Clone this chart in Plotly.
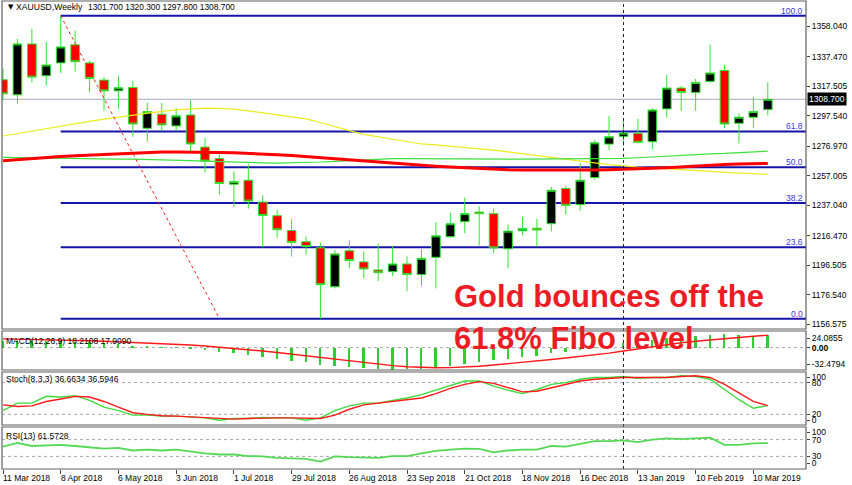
import plotly.graph_objects as go

W, H = 852, 485

# ---------------- data ----------------
date_labels = ["11 Mar 2018", "8 Apr 2018", "6 May 2018", "3 Jun 2018", "1 Jul 2018",
               "29 Jul 2018", "26 Aug 2018", "23 Sep 2018", "21 Oct 2018", "18 Nov 2018",
               "16 Dec 2018", "13 Jan 2019", "10 Feb 2019", "10 Mar 2019"]
date_idx = [0, 4, 8, 12, 16, 20, 24, 28, 32, 36, 40, 44, 48, 52]

opens = [1321.9, 1311.7, 1346.1, 1324.6, 1333.3, 1345.5, 1333.3, 1321.7, 1314.4, 1316.7,
         1289.1, 1298.6, 1290.7, 1298.1, 1276.4, 1268.7, 1251.3, 1254.0, 1239.3, 1230.0,
         1220.0, 1212.4, 1208.3, 1182.0, 1206.3, 1198.8, 1193.4, 1192.2, 1197.4, 1190.2,
         1201.9, 1215.8, 1226.0, 1232.5, 1231.4, 1207.6, 1219.8, 1221.6, 1224.6, 1248.4,
         1237.5, 1255.8, 1278.4, 1283.6, 1285.7, 1280.0, 1302.2, 1316.3, 1313.3, 1320.8,
         1328.2, 1292.5, 1296.6, 1301.7]
highs = [1329.4, 1349.5, 1356.3, 1347.5, 1365.2, 1355.2, 1334.8, 1323.7, 1324.6, 1321.2,
         1306.5, 1306.1, 1302.7, 1308.3, 1282.7, 1271.4, 1260.1, 1264.7, 1243.8, 1234.1,
         1227.7, 1216.0, 1211.7, 1206.9, 1213.3, 1205.8, 1211.2, 1209.4, 1202.6, 1207.6,
         1225.7, 1232.1, 1242.2, 1236.4, 1234.8, 1224.1, 1229.1, 1228.0, 1249.5, 1250.1,
         1265.6, 1281.1, 1297.4, 1295.9, 1295.4, 1302.7, 1325.3, 1317.8, 1322.4, 1345.7,
         1332.1, 1299.3, 1310.5, 1320.3]
lows = [1308.3, 1305.4, 1320.1, 1318.0, 1326.5, 1327.5, 1313.5, 1300.9, 1302.2, 1283.4,
        1280.0, 1287.5, 1287.3, 1273.7, 1259.0, 1244.3, 1235.9, 1234.8, 1208.7, 1215.1,
        1202.4, 1203.6, 1160.4, 1180.9, 1194.4, 1187.7, 1185.9, 1189.3, 1178.8, 1182.7,
        1180.9, 1215.1, 1218.2, 1209.9, 1204.6, 1194.5, 1216.7, 1209.2, 1219.4, 1230.9,
        1233.2, 1254.5, 1274.4, 1277.3, 1278.9, 1274.8, 1296.3, 1300.9, 1300.9, 1319.7,
        1289.1, 1278.9, 1289.1, 1297.8]
closes = [1312.4, 1346.1, 1323.7, 1331.9, 1344.1, 1334.1, 1322.8, 1314.4, 1316.5, 1292.0,
          1300.4, 1291.4, 1297.5, 1278.5, 1266.9, 1251.8, 1253.1, 1239.9, 1230.2, 1220.5,
          1211.9, 1209.2, 1183.4, 1204.2, 1199.7, 1194.0, 1191.5, 1197.4, 1190.2, 1201.2,
          1216.4, 1224.6, 1231.4, 1231.4, 1208.3, 1219.6, 1221.4, 1220.3, 1247.2, 1237.0,
          1254.0, 1279.3, 1283.4, 1285.9, 1279.6, 1301.5, 1316.3, 1313.3, 1320.1, 1326.5,
          1292.0, 1296.6, 1300.4, 1308.7]

ma_red = [1267.1, 1267.9, 1268.6, 1269.3, 1270.0, 1270.5, 1271.0, 1271.5, 1271.9, 1272.3,
          1272.7, 1273.0, 1273.1, 1273.1, 1272.9, 1272.7, 1272.5, 1272.2, 1271.8, 1271.3,
          1270.7, 1270.0, 1269.2, 1268.3, 1267.5, 1266.8, 1266.0, 1265.3, 1264.7, 1264.1,
          1263.5, 1263.0, 1262.5, 1261.9, 1261.3, 1261.1, 1260.9, 1260.8, 1260.7, 1260.7,
          1260.8, 1260.9, 1261.1, 1261.3, 1261.7, 1262.1, 1262.5, 1263.1, 1263.6, 1264.2,
          1264.7, 1264.9, 1265.1, 1265.3]
ma_green = [1269.4, 1269.2, 1269.0, 1268.8, 1268.7, 1268.6, 1268.5, 1268.4, 1268.3, 1268.2,
            1268.1, 1267.9, 1267.6, 1267.3, 1266.9, 1266.5, 1266.2, 1265.9, 1265.7, 1265.6,
            1265.7, 1265.9, 1266.3, 1266.8, 1267.3, 1267.9, 1268.5, 1268.6, 1268.6, 1268.5,
            1268.5, 1268.4, 1268.4, 1268.3, 1268.3, 1268.3, 1268.3, 1268.3, 1268.3, 1268.3,
            1268.3, 1268.4, 1268.5, 1268.7, 1269.2, 1269.8, 1270.4, 1271.0, 1271.4, 1271.8,
            1272.1, 1272.6, 1273.1, 1273.7]
ma_yellow = [1283.9, 1285.6, 1287.3, 1289.1, 1290.8, 1292.3, 1293.8, 1295.3, 1296.7, 1298.1,
             1299.3, 1300.5, 1301.5, 1302.2, 1302.7, 1302.5, 1302.0, 1300.9, 1299.5, 1298.3,
             1297.0, 1295.5, 1293.0, 1290.0, 1287.5, 1285.0, 1283.3, 1281.7, 1280.1, 1278.5,
             1277.9, 1277.1, 1276.2, 1275.3, 1274.4, 1273.1, 1271.8, 1270.5, 1269.3, 1268.1,
             1266.9, 1265.7, 1264.6, 1263.5, 1262.9, 1262.3, 1261.7, 1261.1, 1260.5, 1259.6,
             1259.2, 1258.8, 1258.4, 1257.9]

macd_main = [9.5, 9.8, 9.5, 9.0, 9.2, 8.5, 7.5, 6.0, 4.8, 3.0,
             2.0, 0.8, 0.2, -1.5, -3.5, -6.0, -8.5, -11.0, -14.0, -16.5,
             -19.0, -21.5, -25.5, -27.0, -28.5, -30.0, -31.5, -32.0, -31.5, -30.5,
             -28.5, -26.0, -23.5, -21.0, -18.5, -16.0, -13.5, -11.5, -8.5, -6.0,
             -3.5, -0.5, 3.0, 6.0, 8.5, 11.0, 14.0, 15.5, 17.0, 19.0,
             20.0, 18.5, 17.5, 18.2]
macd_signal = [12.7, 12.4, 12.0, 11.5, 11.0, 10.5, 10.0, 9.3, 8.5, 7.7,
               7.0, 6.4, 5.2, 3.8, 2.3, 0.7, -1.0, -3.0, -5.0, -7.2,
               -9.5, -12.0, -14.5, -17.0, -19.5, -22.0, -24.3, -26.2, -27.8, -28.8,
               -29.2, -29.0, -28.3, -27.0, -25.3, -23.5, -21.5, -19.3, -17.2, -15.0,
               -12.8, -10.5, -8.0, -5.0, -2.0, 1.5, 4.5, 7.0, 9.3, 11.3,
               13.0, 14.8, 16.5, 17.9]
stoch_k = [27, 41.3, 41.3, 54.1, 52.9, 55.4, 46.3, 33.6, 27, 18.7,
           18.7, 16.7, 16.7, 15.4, 13.5, 9, 12.3, 12.3, 14.2, 13.5,
           13.5, 9, 13.5, 27, 36.1, 41.3, 41.3, 46.3, 51, 57.4,
           65.7, 74.8, 83.1, 83.1, 73.4, 65.7, 59.3, 67, 76.7, 80,
           86.4, 89.7, 89.7, 91.6, 88.3, 89.7, 89.7, 92.8, 91.6, 86.4,
           67, 47.7, 31.6, 36.66]
stoch_d = [38, 34.8, 36.1, 44.4, 49, 54.1, 52.9, 44.4, 33.6, 23.2,
           20, 17.5, 16.7, 15.4, 13.5, 12.3, 11, 12.3, 13.5, 13.5,
           13.5, 12.3, 12.3, 18.7, 29.7, 38, 41.3, 44.4, 47.7, 51,
           59.3, 69, 76.7, 81.8, 78.6, 70.2, 62.5, 63.8, 70.2, 76.7,
           83.1, 86.4, 88.3, 89.7, 89.7, 89.7, 89.7, 91.6, 92.8, 89.7,
           76.7, 60.6, 44.4, 36.59]
rsi = [53.1, 62, 54.8, 56.7, 57.5, 54.8, 52.1, 48.7, 50.5, 44.1,
       46, 44.1, 46, 41.5, 37.2, 34.5, 34.5, 30.8, 30, 26.5,
       26, 23.9, 17.5, 30, 28.2, 28.2, 26.5, 30.8, 30.8, 37.2,
       43.3, 46, 48.7, 48, 39.8, 44.1, 46, 46, 54.8, 53.1,
       59.3, 66.4, 66.4, 68.2, 63.8, 70, 72.7, 71, 72.7, 74.4,
       57.5, 57.5, 61.1, 61.57]

fib_high, fib_low = 1365.2, 1160.4
fib_start, fib_end = 4, 15
fib_levels = [0.0, 23.6, 38.2, 50.0, 61.8, 100.0]
price_ticks = [1358.040, 1337.470, 1317.505, 1297.540, 1276.970, 1257.005,
               1237.040, 1216.470, 1196.505, 1176.540, 1156.575]
macd_max_lbl, macd_min_lbl = 24.0855, -32.4794
sep_bar = 43
symbol_text = "XAUUSD,Weekly"
ohlc_text = "1301.700 1320.300 1297.800 1308.700"
macd_text = "MACD(12,26,9) 18.2108 17.9090"
stoch_text = "Stoch(8,3,3) 36.6634 36.5946"
rsi_text = "RSI(13) 61.5728"

idx = list(range(len(closes)))
last_price = closes[-1]

# ---------------- geometry (px) ----------------
X0, X1 = 2, 806
BAR0, BARW = 3.0, 14.43
P_MAIN, P_MACD, P_STO, P_RSI = (1, 329), (331, 370), (372, 425), (427, 469)


def dom(p):
    return [1 - p[1] / H, 1 - p[0] / H]


def px2val(px, p, rng):
    return rng[1] - (px - p[0]) / (p[1] - p[0]) * (rng[1] - rng[0])


def py(px):
    return 1 - px / H


x_range = [(X0 - BAR0) / BARW, (X1 - BAR0) / BARW]
SCALE, REF_PX = 0.6759, 15.7
main_range = [fib_high - (P_MAIN[1] - REF_PX) * SCALE, fib_high + (REF_PX - P_MAIN[0]) * SCALE]
macd_range = [macd_min_lbl, macd_max_lbl]
sto_range = [0, 100]
rsi_range = [0, 100]

GREEN = "#2ee82e"
FONT = "Liberation Sans"
FS = 8.5

fig = go.Figure()
fig.add_trace(go.Scatter(x=idx, y=ma_yellow, mode="lines", line=dict(color="#ecec1c", width=1.2),
                         xaxis="x", yaxis="y", hoverinfo="skip"))
fig.add_trace(go.Scatter(x=idx, y=ma_green, mode="lines", line=dict(color="#3ee03e", width=1.2),
                         xaxis="x", yaxis="y", hoverinfo="skip"))
fig.add_trace(go.Scatter(x=idx, y=ma_red, mode="lines", line=dict(color="#ff0000", width=3),
                         xaxis="x", yaxis="y", hoverinfo="skip"))
fig.add_trace(go.Scatter(x=[fib_start, fib_end], y=[fib_high, fib_low], mode="lines",
                         line=dict(color="#ff2020", width=1, dash="dot"), xaxis="x", yaxis="y",
                         hoverinfo="skip"))
fig.add_trace(go.Candlestick(x=idx, open=opens, high=highs, low=lows, close=closes,
                             increasing=dict(line=dict(color=GREEN, width=1), fillcolor="#000000"),
                             decreasing=dict(line=dict(color=GREEN, width=1), fillcolor="#ff0000"),
                             whiskerwidth=0, xaxis="x", yaxis="y", hoverinfo="skip"))
fig.add_trace(go.Bar(x=idx, y=macd_main, width=0.13, marker=dict(color="#33cc33", line=dict(width=0)),
                     xaxis="x", yaxis="y2", hoverinfo="skip"))
fig.add_trace(go.Scatter(x=idx, y=macd_signal, mode="lines", line=dict(color="#ff1a1a", width=1.4),
                         xaxis="x", yaxis="y2", hoverinfo="skip"))
fig.add_trace(go.Scatter(x=idx, y=stoch_k, mode="lines", line=dict(color="#3ddc3d", width=1.4),
                         xaxis="x", yaxis="y3", hoverinfo="skip"))
fig.add_trace(go.Scatter(x=idx, y=stoch_d, mode="lines", line=dict(color="#ff1a1a", width=1.4),
                         xaxis="x", yaxis="y3", hoverinfo="skip"))
fig.add_trace(go.Scatter(x=idx, y=rsi, mode="lines", line=dict(color="#55d855", width=1.8),
                         xaxis="x", yaxis="y4", hoverinfo="skip"))

shapes = []
# bid line
shapes.append(dict(type="line", xref="paper", yref="y", x0=X0 / W, x1=X1 / W, y0=last_price, y1=last_price,
                   line=dict(color="#a4adbd", width=1), layer="below"))
# fibonacci rays
for lv in fib_levels:
    pr = fib_low + lv / 100 * (fib_high - fib_low)
    shapes.append(dict(type="line", xref="x", yref="y", x0=fib_start, x1=x_range[1], y0=pr, y1=pr,
                       line=dict(color="#1414a8", width=2), layer="below"))
# indicator levels
for yr, v in [("y2", 0), ("y3", 80), ("y3", 20), ("y4", 70), ("y4", 30)]:
    shapes.append(dict(type="line", xref="paper", yref=yr, x0=X0 / W, x1=X1 / W, y0=v, y1=v,
                       line=dict(color="#a8a8a8", width=1, dash="dot"), layer="below"))
# separator
shapes.append(dict(type="line", xref="x", yref="paper", x0=sep_bar, x1=sep_bar, y0=py(P_RSI[1]), y1=py(P_MAIN[0]),
                   line=dict(color="#222222", width=1, dash="dot")))
# frames
for p in [P_MAIN, P_MACD, P_STO, P_RSI]:
    shapes.append(dict(type="rect", xref="paper", yref="paper", x0=X0 / W, x1=X1 / W, y0=py(p[1]), y1=py(p[0]),
                       line=dict(color="#606060", width=1.2), fillcolor="rgba(0,0,0,0)"))

ann = []
ann.append(dict(text="▼", x=6 / W, y=py(7.5), xref="paper", yref="paper", xanchor="left",
                yanchor="middle", showarrow=False, font=dict(family="DejaVu Sans", size=7, color="#000")))
ann.append(dict(text=symbol_text, x=14 / W, y=py(7.5), xref="paper", yref="paper", xanchor="left",
                yanchor="middle", showarrow=False, font=dict(family=FONT, size=8.6, color="#000")))
ann.append(dict(text=ohlc_text, x=86 / W, y=py(7.5), xref="paper", yref="paper", xanchor="left",
                yanchor="middle", showarrow=False, font=dict(family=FONT, size=8.4, color="#000")))
for t, ypx in [(macd_text, 341), (stoch_text, 379), (rsi_text, 436)]:
    ann.append(dict(text=t, x=4 / W, y=py(ypx), xref="paper", yref="paper", xanchor="left", yanchor="middle",
                    showarrow=False, font=dict(family=FONT, size=FS, color="#000")))
for lbl, i in zip(date_labels, date_idx):
    ann.append(dict(text=lbl, x=i, y=py(478), xref="x", yref="paper", xanchor="left", yanchor="middle",
                    xshift=-2, showarrow=False, font=dict(family=FONT, size=FS, color="#000")))
for lv in fib_levels:
    pr = fib_low + lv / 100 * (fib_high - fib_low)
    ann.append(dict(text=f"{lv:.1f}", x=805 / W, y=pr, xref="paper", yref="y", xanchor="right", yanchor="bottom",
                    yshift=-2, showarrow=False, font=dict(family=FONT, size=FS, color="#3a3ad8")))
ann.append(dict(text=f"{last_price:.3f}", x=807 / W, y=last_price, xref="paper", yref="y", xanchor="left",
                yanchor="middle", showarrow=False, bgcolor="#000000", borderpad=1,
                font=dict(family=FONT, size=FS, color="#ffffff")))
ann.append(dict(text="<b>Gold bounces off the</b>", x=452 / W, y=py(296), xref="paper", yref="paper",
                xanchor="left", yanchor="middle", showarrow=False,
                font=dict(family=FONT, size=31, color="#ed1c24")))
ann.append(dict(text="<b>61.8% Fibo level</b>", x=452 / W, y=py(338), xref="paper", yref="paper",
                xanchor="left", yanchor="middle", showarrow=False,
                font=dict(family=FONT, size=31, color="#ed1c24")))

tickfont = dict(family=FONT, size=FS, color="#000")
common_y = dict(side="right", anchor="x", showgrid=False, zeroline=False, ticks="outside", ticklen=3,
                tickcolor="#444", tickfont=tickfont, fixedrange=True, showline=False)

macd_tv = [px2val(338, P_MACD, macd_range), 0, px2val(364, P_MACD, macd_range)]
sto_tv = [px2val(377, P_STO, sto_range), 80, 20, px2val(420, P_STO, sto_range)]
rsi_tv = [px2val(432, P_RSI, rsi_range), 70, 30, px2val(463, P_RSI, rsi_range)]

fig.update_layout(
    width=W, height=H, autosize=False,
    margin=dict(l=0, r=0, t=0, b=0, pad=0),
    paper_bgcolor="#ffffff", plot_bgcolor="#ffffff",
    showlegend=False, boxgap=0.4, boxgroupgap=0, bargap=0,
    xaxis=dict(domain=[X0 / W, X1 / W], range=x_range, anchor="y4", showgrid=False, zeroline=False,
               showticklabels=False, ticks="outside", ticklen=4, tickcolor="#444", tickvals=date_idx,
               rangeslider=dict(visible=False), fixedrange=True, showline=False),
    yaxis=dict(domain=dom(P_MAIN), range=main_range, tickvals=price_ticks,
               ticktext=[f"{v:.3f}" for v in price_ticks], **common_y),
    yaxis2=dict(domain=dom(P_MACD), range=macd_range, tickvals=macd_tv,
                ticktext=[f"{macd_max_lbl}", "<b>0.00</b>", f"{macd_min_lbl}"], **common_y),
    yaxis3=dict(domain=dom(P_STO), range=sto_range, tickvals=sto_tv,
                ticktext=["100", "80", "20", "0"], **common_y),
    yaxis4=dict(domain=dom(P_RSI), range=rsi_range, tickvals=rsi_tv,
                ticktext=["100", "70", "30", "0"], **common_y),
    shapes=shapes, annotations=ann,
)

fig.write_html("out.html", config={"displayModeBar": False})

# remove the default page margin so the figure sits at the window's top-left corner
with open("out.html", "r", encoding="utf-8") as f:
    html = f.read()
html = html.replace("<head>", "<head><style>html,body{margin:0;padding:0;overflow:hidden;}</style>", 1)
with open("out.html", "w", encoding="utf-8") as f:
    f.write(html)
